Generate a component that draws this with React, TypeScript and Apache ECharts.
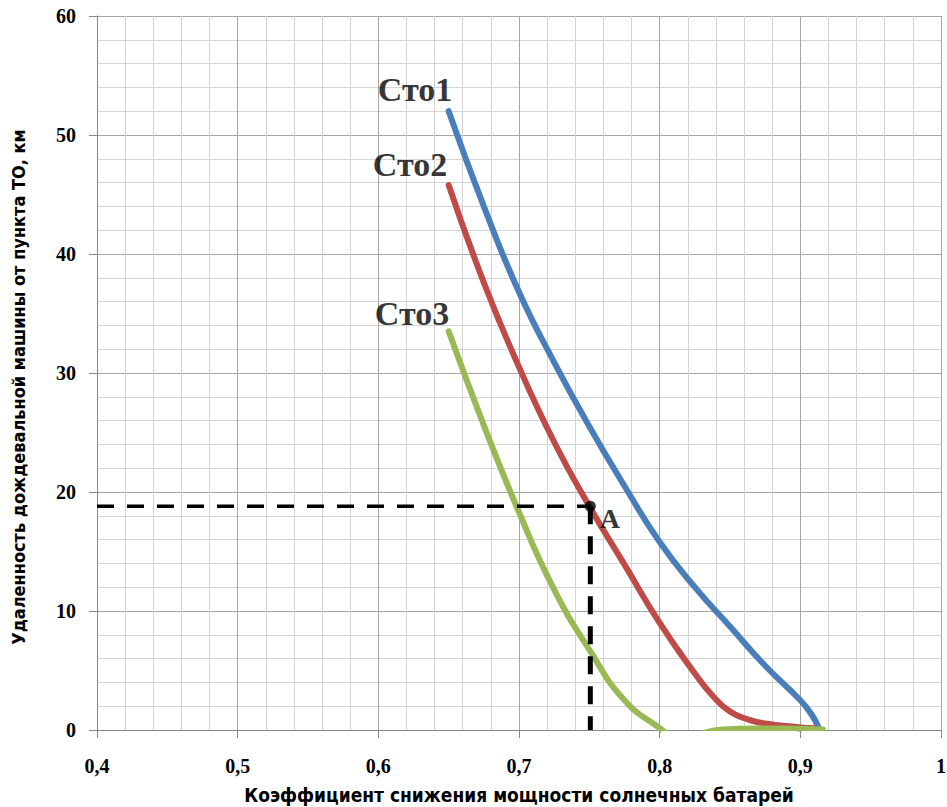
import React, { useEffect, useRef } from "react";
import * as echarts from "echarts";

// Кривые (x — коэффициент снижения мощности, y — удалённость, км)
const sto1X = [0.65, 0.675, 0.7, 0.725, 0.75, 0.775, 0.8, 0.825, 0.85, 0.875, 0.9, 0.908, 0.913];
const sto1Y = [52, 44.0, 36.8, 30.9, 25.5, 20.5, 15.8, 12.0, 8.7, 5.4, 2.5, 1.3, 0.2];

const sto2X = [0.65, 0.675, 0.7, 0.725, 0.75, 0.775, 0.8, 0.825, 0.8375, 0.85, 0.8625, 0.875, 0.9, 0.91];
const sto2Y = [45.8, 37.6, 30.5, 24.2, 18.8, 13.9, 9.0, 4.75, 2.9, 1.55, 0.9, 0.55, 0.22, 0.15];

const sto3X = [0.65, 0.675, 0.7, 0.725, 0.75, 0.775, 0.8, 0.81, 0.82, 0.83, 0.845, 0.87, 0.9, 0.916];
const sto3Y = [33.5, 25.6, 18.3, 11.8, 6.75, 2.5, 0.15, -0.6, -0.8, -0.3, 0.05, 0.12, 0.1, 0.05];

const seriesNames = ["Сто1", "Сто2", "Сто3"];
const seriesColors = ["#4A7EBB", "#BE4B48", "#98B954"];

// Точка A
const pointA = [0.7507, 18.8];
const pointALabel = "A";

const xTicks = [0.4, 0.5, 0.6, 0.7, 0.8, 0.9, 1];
const xTitle = "Коэффициент снижения мощности солнечных батарей";
const yTitle = "Удаленность дождевальной машины от пункта ТО, км";

const zip = (xs: number[], ys: number[]) => xs.map((x, i) => [x, ys[i]]);

const serif = "'Liberation Serif', 'Times New Roman', serif";
const narrow = "'Liberation Sans Narrow', 'DejaVu Sans Condensed', 'Liberation Sans', Arial, sans-serif";

export default function App() {
  const ref = useRef<HTMLDivElement>(null);
  useEffect(() => {
    if (!ref.current) return;
    const chart = echarts.init(ref.current, null, { renderer: "svg" });
    const curves = [zip(sto1X, sto1Y), zip(sto2X, sto2Y), zip(sto3X, sto3Y)];
    const labelOffsets = [[4, -22], [-1, -20], [1, -18]];
    const lineSeries = curves.map((d, i) => ({
      type: "line",
      name: seriesNames[i],
      data: d,
      smooth: 0.5,
      showSymbol: false,
      symbol: "none",
      lineStyle: { color: seriesColors[i], width: 6, cap: "round" },
      z: 3,
    }));
    const labelSeries = curves.map((d, i) => ({
      type: "scatter",
      data: [d[0]],
      symbolSize: 1,
      itemStyle: { color: "rgba(0,0,0,0)" },
      label: {
        show: true,
        formatter: seriesNames[i],
        position: "left",
        distance: 0,
        align: "right",
        verticalAlign: "middle",
        offset: labelOffsets[i],
        fontFamily: serif,
        fontWeight: "bold",
        fontSize: 34,
        color: "#000",
      },
      z: 5,
    }));
    chart.setOption({
      animation: false,
      grid: { left: 97, right: 6, top: 16, bottom: 77, outerBoundsMode: "none", containLabel: false },
      xAxis: {
        type: "value",
        min: 0.4,
        max: 1,
        interval: 0.1,
        axisLine: { show: true, onZero: false, lineStyle: { color: "#868686", width: 1 } },
        axisTick: { show: true, inside: false, length: 8, lineStyle: { color: "#868686" } },
        axisLabel: {
          margin: 26,
          fontFamily: serif,
          fontWeight: "bold",
          fontSize: 20,
          color: "#000",
          formatter: (v: number) => {
            const t = xTicks.find((k) => Math.abs(k - v) < 1e-6);
            return t === undefined ? "" : String(t).replace(".", ",");
          },
        },
        splitLine: { show: true, lineStyle: { color: "#a6a6a6", width: 1 } },
        minorTick: { show: false, splitNumber: 5 },
        minorSplitLine: { show: true, lineStyle: { color: "#d4d4d4", width: 1 } },
        name: xTitle,
        nameLocation: "middle",
        nameGap: 55,
        nameTextStyle: { fontFamily: narrow, fontWeight: "bold", fontSize: 19, color: "#000" },
      },
      yAxis: {
        type: "value",
        min: 0,
        max: 60,
        interval: 10,
        axisLine: { show: true, lineStyle: { color: "#868686", width: 1 } },
        axisTick: { show: true, inside: false, length: 8, lineStyle: { color: "#868686" } },
        axisLabel: { margin: 21, fontFamily: serif, fontWeight: "bold", fontSize: 20, color: "#000" },
        splitLine: { show: true, lineStyle: { color: "#a6a6a6", width: 1 } },
        minorTick: { show: false, splitNumber: 5 },
        minorSplitLine: { show: true, lineStyle: { color: "#d4d4d4", width: 1 } },
        name: yTitle,
        nameLocation: "middle",
        nameGap: 70,
        nameTextStyle: { fontFamily: narrow, fontWeight: "bold", fontSize: 18, color: "#000", padding: [0, 28, 0, 0] },
      },
      series: [
        ...lineSeries,
        ...labelSeries,
        {
          type: "line",
          data: [[0.4, pointA[1]], pointA],
          symbol: "none",
          lineStyle: { color: "#000", width: 3.5, type: [17, 13] },
          z: 4,
        },
        {
          type: "line",
          data: [pointA, [pointA[0], 0]],
          symbol: "none",
          lineStyle: { color: "#000", width: 5, type: [18, 12] },
          z: 4,
        },
        {
          type: "scatter",
          data: [pointA],
          symbol: "circle",
          symbolSize: 11,
          itemStyle: { color: "#000" },
          label: {
            show: true,
            formatter: pointALabel,
            position: "right",
            distance: 0,
            offset: [4, 12],
            fontFamily: serif,
            fontWeight: "bold",
            fontSize: 28,
            color: "#000",
          },
          z: 6,
        },
      ],
      graphic: [
        { type: "rect", z: 100, shape: { x: 630, y: 731, width: 27.5, height: 6 }, style: { fill: "#fff" } },
        { type: "rect", z: 100, shape: { x: 661.5, y: 731, width: 136.5, height: 6 }, style: { fill: "#fff" } },
        { type: "rect", z: 100, shape: { x: 802, y: 731, width: 30, height: 6 }, style: { fill: "#fff" } },
      ],
    });
    return () => chart.dispose();
  }, []);
  return <div ref={ref} style={{ width: 947, height: 807, position: "absolute", left: 0, top: 0 }} />;
}
